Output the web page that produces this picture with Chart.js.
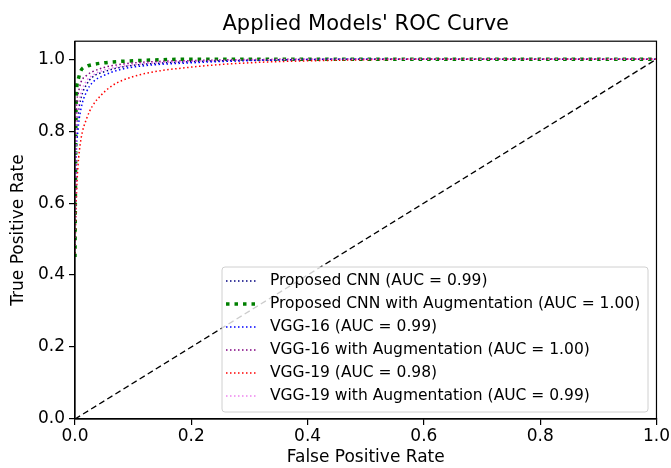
<!DOCTYPE html>
<html>
<head>
<meta charset="utf-8">
<script src="https://cdn.jsdelivr.net/npm/chart.js@4"></script>
<style>
  html, body { margin: 0; padding: 0; background: #fff; }
  #wrap { width: 671px; height: 468px; }
</style>
</head>
<body>
<div id="wrap"><canvas id="roc"></canvas></div>
<script>
// model names and AUC values (legend)
const modelNames = [
  "Proposed CNN",
  "Proposed CNN with Augmentation",
  "VGG-16",
  "VGG-16 with Augmentation",
  "VGG-19",
  "VGG-19 with Augmentation"
];
const aucValues = ["0.99", "1.00", "0.99", "1.00", "0.98", "0.99"];

// false positive rate points
const fprCommon = [0, 0.002, 0.005, 0.01, 0.02, 0.03, 0.05, 0.08, 0.12, 0.2, 0.3, 0.5, 1.0];
const fprAugCnn = [0, 0.002, 0.005, 0.01, 0.02, 0.03, 0.05, 0.08, 0.12, 0.2, 1.0];
const fprVgg19 = [0, 0.002, 0.005, 0.01, 0.02, 0.03, 0.045, 0.06, 0.08, 0.12, 0.2, 0.3, 0.45, 0.6, 1.0];

// true positive rate points
const tprCnn      = [0.47, 0.76, 0.84, 0.89, 0.93, 0.95, 0.965, 0.978, 0.986, 0.993, 0.997, 1, 1];
const tprCnnAug   = [0.45, 0.88, 0.94, 0.968, 0.98, 0.985, 0.99, 0.994, 0.997, 1, 1];
const tprVgg16    = [0.47, 0.72, 0.8, 0.86, 0.91, 0.935, 0.955, 0.972, 0.982, 0.99, 0.996, 1, 1];
const tprVgg16Aug = [0.47, 0.84, 0.9, 0.935, 0.955, 0.965, 0.977, 0.986, 0.992, 0.996, 0.999, 1, 1];
const tprVgg19    = [0.46, 0.6, 0.7, 0.775, 0.835, 0.87, 0.9, 0.922, 0.94, 0.96, 0.978, 0.99, 0.997, 1, 1];
const tprVgg19Aug = [0.47, 0.78, 0.86, 0.905, 0.94, 0.955, 0.97, 0.98, 0.988, 0.994, 0.998, 1, 1];

const chanceX = [0, 1];
const chanceY = [0, 1];

const xTicks = [0, 0.2, 0.4, 0.6, 0.8, 1.0];
const yTicks = [0, 0.2, 0.4, 0.6, 0.8, 1.0];

function pts(xs, ys) {
  return xs.map((x, i) => ({ x: x, y: ys[i] }));
}

const curves = [
  { x: fprCommon, y: tprCnn,      color: "#000080", width: 1.5, dash: [1.5, 2.5] },
  { x: fprAugCnn, y: tprCnnAug,   color: "#008000", width: 3.5, dash: [3.5, 5] },
  { x: fprCommon, y: tprVgg16,    color: "#0000ff", width: 1.5, dash: [1.5, 2.5] },
  { x: fprCommon, y: tprVgg16Aug, color: "#800080", width: 1.5, dash: [1.5, 2.5] },
  { x: fprVgg19,  y: tprVgg19,    color: "#ff0000", width: 1.5, dash: [1.5, 2.5] },
  { x: fprCommon, y: tprVgg19Aug, color: "#ee82ee", width: 1.5, dash: [1.5, 2.5] }
];

const datasets = curves.map((c, i) => ({
  label: modelNames[i] + " (AUC = " + aucValues[i] + ")",
  data: pts(c.x, c.y),
  showLine: true,
  borderColor: c.color,
  backgroundColor: c.color,
  borderWidth: c.width,
  borderDash: c.dash,
  borderCapStyle: "butt",
  pointRadius: 0,
  cubicInterpolationMode: "monotone",
  fill: false,
  order: 10 - i
}));

datasets.push({
  label: "chance",
  data: pts(chanceX, chanceY),
  showLine: true,
  borderColor: "#000",
  borderWidth: 1.3,
  borderDash: [6, 3.5],
  pointRadius: 0,
  fill: false,
  order: 0
});

const fontFam = "'DejaVu Sans', sans-serif";

// frame around plot + legend box inside the chart area
const framePlugin = {
  id: "frameAndLegend",
  afterDatasetsDraw(chart) {
    const ctx = chart.ctx;
    const a = chart.chartArea;
    ctx.save();
    ctx.strokeStyle = "#000";
    ctx.lineWidth = 1.2;
    ctx.setLineDash([]);
    ctx.strokeRect(a.left, a.top, a.right - a.left, a.bottom - a.top);

    // legend
    const boxL = 222, boxT = 267, boxR = 648, boxB = 412;
    ctx.globalAlpha = 0.8;
    ctx.fillStyle = "#fff";
    ctx.beginPath();
    ctx.roundRect(boxL, boxT, boxR - boxL, boxB - boxT, 3);
    ctx.fill();
    ctx.globalAlpha = 1;
    ctx.strokeStyle = "#d0d0d0";
    ctx.lineWidth = 1;
    ctx.stroke();

    ctx.font = "15.5px " + fontFam;
    ctx.textBaseline = "middle";
    const rowH = 23;
    for (let i = 0; i < curves.length; i++) {
      const yy = boxT + 14 + i * rowH;
      const c = curves[i];
      ctx.strokeStyle = c.color;
      ctx.lineWidth = c.width;
      ctx.setLineDash(c.dash);
      ctx.beginPath();
      ctx.moveTo(226, yy);
      ctx.lineTo(256, yy);
      ctx.stroke();
      ctx.setLineDash([]);
      ctx.fillStyle = "#000";
      ctx.fillText(datasets[i].label, 270, yy);
    }
    ctx.restore();
  }
};

new Chart(document.getElementById("roc"), {
  type: "scatter",
  data: { datasets: datasets },
  plugins: [framePlugin],
  options: {
    responsive: true,
    maintainAspectRatio: false,
    animation: false,
    layout: { padding: { left: 0, right: 12, top: 0, bottom: 0 } },
    plugins: {
      legend: { display: false },
      tooltip: { enabled: false },
      title: {
        display: true,
        fullSize: false,
        text: "Applied Models' ROC Curve",
        color: "#000",
        font: { family: fontFam, size: 21, weight: "normal" },
        padding: { top: 12, bottom: 4 }
      }
    },
    scales: {
      x: {
        type: "linear",
        min: 0,
        max: 1,
        afterBuildTicks: (s) => { s.ticks = xTicks.map(v => ({ value: v })); },
        afterFit: (s) => { s.height = 49; },
        ticks: {
          color: "#000",
          font: { family: fontFam, size: 17 },
          padding: 1,
          maxRotation: 0,
          callback: (v) => Number(v).toFixed(1)
        },
        grid: { drawOnChartArea: false, drawTicks: true, tickLength: 6, color: "#000", lineWidth: 1.2 },
        border: { color: "#000", width: 1.2 },
        title: {
          display: true,
          text: "False Positive Rate",
          color: "#000",
          font: { family: fontFam, size: 17 },
          padding: { top: 0, bottom: 0 }
        }
      },
      y: {
        type: "linear",
        min: 0,
        max: 1.05,
        afterBuildTicks: (s) => { s.ticks = yTicks.map(v => ({ value: v })); },
        afterFit: (s) => { s.width = 75; },
        ticks: {
          color: "#000",
          font: { family: fontFam, size: 17 },
          padding: 4,
          callback: (v) => Number(v).toFixed(1)
        },
        grid: { drawOnChartArea: false, drawTicks: true, tickLength: 6, color: "#000", lineWidth: 1.2 },
        border: { color: "#000", width: 1.2 },
        title: {
          display: true,
          text: "True Positive Rate",
          color: "#000",
          font: { family: fontFam, size: 17 },
          padding: { top: 8, bottom: 0 }
        }
      }
    }
  }
});
</script>
</body>
</html>
